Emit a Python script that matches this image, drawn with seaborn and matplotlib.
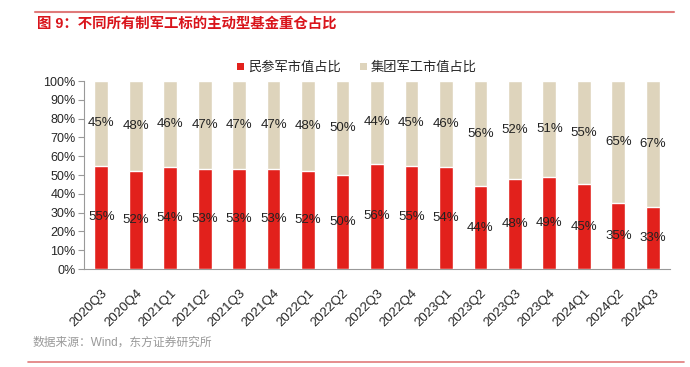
import matplotlib
matplotlib.use("Agg")
import matplotlib.pyplot as plt
import matplotlib.transforms as mtransforms
import seaborn as sns
import numpy as np
import pandas as pd
from matplotlib.patches import Patch
from matplotlib.lines import Line2D

quarters = ["2020Q3", "2020Q4", "2021Q1", "2021Q2", "2021Q3", "2021Q4", "2022Q1", "2022Q2",
            "2022Q3", "2022Q4", "2023Q1", "2023Q2", "2023Q3", "2023Q4", "2024Q1", "2024Q2", "2024Q3"]
civil = [55, 52, 54, 53, 53, 53, 52, 50, 56, 55, 54, 44, 48, 49, 45, 35, 33]
group = [45, 48, 46, 47, 47, 47, 48, 50, 44, 45, 46, 56, 52, 51, 55, 65, 67]
series_names = ["民参军市值占比", "集团军工市值占比"]
title = "图 9：不同所有制军工标的主动型基金重仓占比"
source = "数据来源：Wind，东方证券研究所"

RED = "#E2211C"
BEIGE = "#DED4BC"

sns.set_theme(style="white")
plt.rcParams['font.family'] = ['Liberation Sans', 'Noto Sans CJK SC', 'DejaVu Sans']

df = pd.DataFrame({"q": quarters, "civil": civil, "group": group})
df["total"] = df["civil"] + df["group"]

fig = plt.figure(figsize=(6.9, 3.67), dpi=100)
ax = fig.add_axes([84/690, 1-269/367, (670-84)/690, (269-81)/367])

sns.barplot(data=df, x="q", y="total", color=BEIGE, width=0.4, saturation=1, ax=ax, zorder=2)
sns.barplot(data=df, x="q", y="civil", color=RED, width=0.4, saturation=1, ax=ax, zorder=3)

for i, (c, g) in enumerate(zip(civil, group)):
    ax.text(i, c/2, f"{c}%", ha="center", va="center", fontsize=9.5, color="#222222", zorder=5)
    ax.text(i, c + g/2, f"{g}%", ha="center", va="center", fontsize=9.5, color="#222222", zorder=5)

ax.set_ylim(0, 100)
ax.set_xlim(-0.5, len(quarters)-0.5)
ax.set_yticks(np.arange(0, 101, 10))
ax.set_yticklabels([f"{v}%" for v in range(0, 101, 10)], fontsize=9)
ax.set_xticks(range(len(quarters)))
ax.set_xticklabels(quarters, rotation=45, ha="right", rotation_mode="anchor", fontsize=9.5)
offset = mtransforms.ScaledTranslation(-3/100, 0, fig.dpi_scale_trans)
for lab in ax.get_xticklabels():
    lab.set_transform(lab.get_transform() + offset)
ax.set_xticks(np.arange(-0.5, len(quarters), 1), minor=True)
ax.tick_params(axis="x", which="major", length=0, pad=13)
ax.tick_params(axis="x", which="minor", length=4, color="#999999", width=0.8)
ax.tick_params(axis="y", which="major", length=4, color="#999999", width=0.8, left=True, pad=2)
ax.set_xlabel("")
ax.set_ylabel("")
for s in ["top", "right"]:
    ax.spines[s].set_visible(False)
for s in ["left", "bottom"]:
    ax.spines[s].set_color("#999999")
    ax.spines[s].set_linewidth(0.8)

handles = [Patch(facecolor=RED, edgecolor="none"), Patch(facecolor=BEIGE, edgecolor="none")]
fig.legend(handles, series_names, loc="center", bbox_to_anchor=(357/690, 1-68/367), ncol=2,
           frameon=False, fontsize=9.5, handlelength=0.5, handleheight=0.5, handletextpad=0.3,
           columnspacing=1.5)

fig.text(37/690, 1-24/367, title, color="#D9141B", fontsize=10.4, fontweight="bold",
         ha="left", va="center")
fig.text(33/690, 1-343/367, source, color="#999999", fontsize=8.5, ha="left", va="center")

fig.add_artist(Line2D([35/690, 674/690], [1-12/367, 1-12/367], color="#E07A7A", lw=1.5))
fig.add_artist(Line2D([28/690, 684/690], [1-362/367, 1-362/367], color="#E07A7A", lw=1.2))

fig.savefig("out.png", dpi=100)
